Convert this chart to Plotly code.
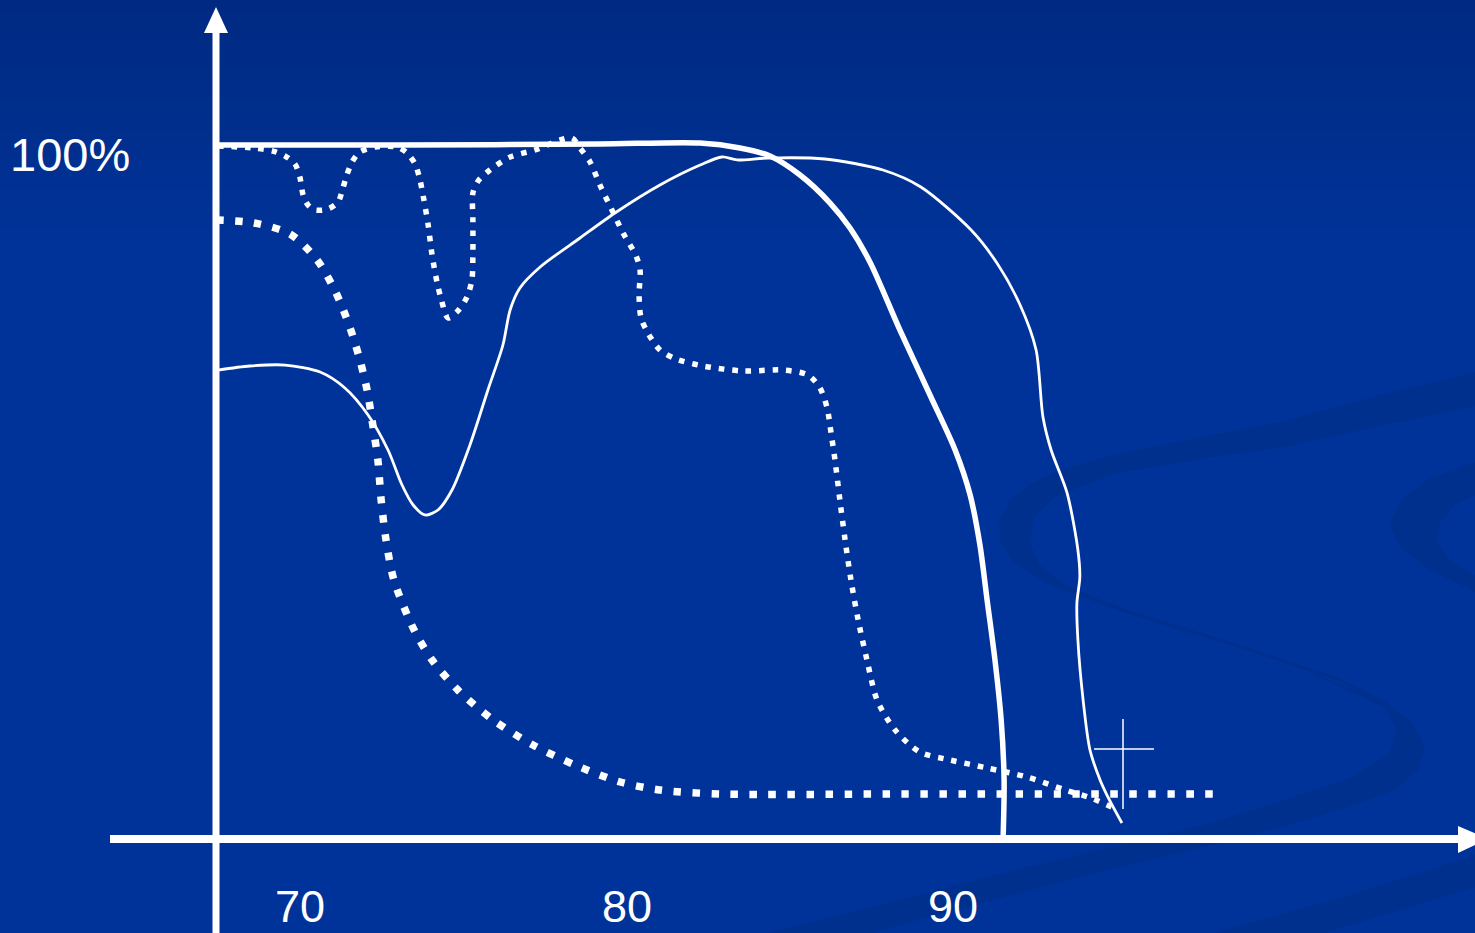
import plotly.graph_objects as go

W, H = 1475, 933

# ---------------- data (x = temperature, y = percent) ----------------
tick_values = [70, 80, 90]
tick_labels = ["70", "80", "90"]
y_label_value = 100
y_label_text = "100%"

thick_x = [67.48, 73.06, 79.18, 82.25, 83.47, 84.39, 85.31, 86.23, 86.84, 87.45,
           88.37, 89.29, 90.06, 90.52, 90.82, 91.04, 91.28, 91.47, 91.56, 91.53]
thick_y = [100.0, 100.0, 100.14, 100.29, 99.57, 98.41, 95.67, 91.63, 88.02, 83.12,
           73.30, 63.92, 55.99, 49.49, 42.28, 34.34, 25.69, 17.03, 8.37, 0.0]

thin_x = [67.48, 68.46, 69.54, 70.61, 71.37, 72.08, 72.69, 73.12, 73.46, 73.82,
          74.22, 74.65, 75.20, 75.75, 76.21, 76.43, 76.73, 77.35, 78.57, 79.64,
          81.02, 82.25, 82.92, 83.38, 84.33, 86.07, 87.85, 89.01, 90.55, 91.34,
          92.05, 92.54, 92.75, 93.00, 93.49, 93.82, 93.88, 93.79, 93.82, 93.98,
          94.19, 94.50, 94.71, 95.17]
thin_y = [67.53, 68.11, 68.25, 67.24, 64.94, 61.04, 55.99, 50.94, 48.05, 46.61,
          47.33, 50.22, 56.71, 64.65, 71.14, 76.19, 79.37, 82.40, 86.58, 90.19,
          94.23, 97.11, 98.27, 97.84, 98.12, 97.98, 96.39, 93.94, 87.73, 82.97,
          76.91, 70.42, 60.75, 55.99, 49.78, 41.56, 37.66, 33.91, 28.57, 19.91,
          12.70, 8.37, 6.20, 2.16]

round_x = [67.42, 68.59, 69.69, 70.52, 71.10, 71.53, 71.83, 72.05, 72.20, 72.38,
           72.48, 72.63, 72.87, 73.49, 74.04, 74.83, 75.91, 77.13, 78.42, 79.80,
           81.02, 82.86, 88.37, 93.27, 98.23]
round_y = [89.18, 88.74, 87.16, 83.41, 78.64, 73.59, 68.98, 64.65, 60.32, 54.55,
           48.77, 43.00, 37.23, 30.01, 25.69, 21.36, 17.03, 13.42, 10.53, 8.08,
           6.93, 6.35, 6.35, 6.35, 6.35]

sq_x = [67.48, 68.56, 69.17, 69.54, 69.84, 69.99, 70.09, 70.24, 70.45, 70.85,
        71.16, 71.31, 71.43, 71.59, 71.83, 72.29, 72.97, 73.27, 73.52, 73.67,
        73.79, 73.92, 74.04, 74.19, 74.31, 74.53, 74.83, 75.11, 75.26, 75.29,
        75.29, 75.29, 75.45, 75.81, 76.43, 77.19, 77.96, 78.33, 78.57, 78.88,
        79.18, 79.52, 79.89, 80.29, 80.41, 80.38, 80.44, 80.65, 81.02, 81.51,
        82.34, 83.56, 84.79, 85.55, 85.92, 86.14, 86.26, 86.38, 86.53, 86.69,
        86.87, 87.09, 87.36, 87.67, 88.22, 88.98, 89.90, 91.04, 92.26, 93.43,
        94.22, 94.99]
sq_y = [99.86, 99.57, 99.13, 98.41, 97.26, 95.38, 92.78, 91.34, 90.62, 90.76,
        91.77, 93.80, 95.67, 97.55, 98.99, 99.71, 99.71, 98.85, 97.26, 94.95,
        92.06, 88.46, 84.13, 80.23, 77.92, 75.04, 76.05, 78.07, 80.52, 84.42,
        89.18, 93.07, 94.81, 96.39, 98.27, 99.28, 100.72, 101.01, 99.57, 97.55,
        94.23, 90.91, 87.30, 83.98, 81.96, 78.35, 75.04, 72.87, 70.42, 69.12,
        68.11, 67.39, 67.53, 66.81, 64.94, 62.05, 58.44, 54.55, 48.77, 43.00,
        37.23, 31.46, 25.69, 19.91, 15.58, 12.41, 11.26, 10.10, 8.80, 6.93,
        5.77, 4.18]

# ---------------- styling helpers ----------------
BG = "#003399"
SWOOSH = "#00308e"
WHITE = "#ffffff"
FONT = "Arial, Liberation Sans, sans-serif"


def P(px, py):
    return px / W, 1 - py / H


def poly_path(points):
    parts = []
    for i, (px, py) in enumerate(points):
        x, y = P(px, py)
        parts.append(("M" if i == 0 else "L") + f"{x:.5f},{y:.5f}")
    return " ".join(parts) + " Z"


def open_path(points):
    parts = []
    for i, (px, py) in enumerate(points):
        x, y = P(px, py)
        parts.append(("M" if i == 0 else "L") + f"{x:.5f},{y:.5f}")
    return " ".join(parts)


def lerp_color(c1, c2, t):
    a = [int(c1[i:i + 2], 16) for i in (1, 3, 5)]
    b = [int(c2[i:i + 2], 16) for i in (1, 3, 5)]
    return "#" + "".join(f"{round(a[k] + (b[k] - a[k]) * t):02x}" for k in range(3))


fig = go.Figure()

fig.add_trace(go.Scatter(x=sq_x, y=sq_y, mode="lines",
                         line=dict(color=WHITE, width=5.5, dash="5.5px,8px",
                                   shape="spline", smoothing=0.8),
                         hoverinfo="skip"))
fig.add_trace(go.Scatter(x=round_x, y=round_y, mode="lines",
                         line=dict(color=WHITE, width=7.5, dash="7.5px,11.5px",
                                   shape="spline", smoothing=0.8),
                         hoverinfo="skip"))
fig.add_trace(go.Scatter(x=thin_x, y=thin_y, mode="lines",
                         line=dict(color=WHITE, width=2.8, shape="spline", smoothing=0.8),
                         hoverinfo="skip"))
fig.add_trace(go.Scatter(x=thick_x, y=thick_y, mode="lines",
                         line=dict(color=WHITE, width=5.5, shape="spline", smoothing=0.8),
                         hoverinfo="skip"))

shapes = []
# background gradient at top
n = 26
for i in range(n):
    x0, y1 = P(0, i * 10)
    x1, y0 = P(W, (i + 1) * 10 + 1)
    shapes.append(dict(type="rect", xref="paper", yref="paper", x0=x0, x1=x1, y0=y0, y1=y1,
                       line=dict(width=0), fillcolor=lerp_color("#002a82", BG, i / (n - 1)),
                       layer="below"))

# decorative swooshes
swoosh_polys = [
    # top arm + left turn
    [(1475, 372), (1380, 395), (1285, 421), (1200, 437), (1117, 454), (1060, 470),
     (1030, 484), (1010, 500), (999, 521), (1000, 543), (1015, 563), (1045, 583),
     (1117, 610), (1200, 637),
     (1117, 606), (1065, 585), (1040, 565), (1030, 543), (1034, 518), (1055, 497),
     (1117, 473), (1200, 459), (1285, 447), (1380, 426), (1475, 406)],
    # right turn + lower arm
    [(1300, 668), (1385, 702), (1412, 722), (1425, 748), (1418, 770), (1395, 790),
     (1352, 806), (1290, 825), (1200, 848), (1100, 872), (1000, 898), (900, 925),
     (875, 933), (767, 933), (879, 905), (1000, 874), (1102, 849), (1200, 826),
     (1285, 800), (1350, 778), (1390, 752), (1397, 730), (1385, 708)],
    # bottom right band
    [(1475, 855), (1350, 895), (1214, 933), (1325, 933), (1400, 910), (1475, 887)],
    # right edge partial ring
    [(1475, 462), (1430, 478), (1400, 500), (1390, 525), (1400, 548), (1430, 570),
     (1475, 592), (1475, 575), (1450, 560), (1437, 540), (1440, 522), (1455, 505),
     (1475, 495)],
]
for poly in swoosh_polys:
    shapes.append(dict(type="path", xref="paper", yref="paper", path=poly_path(poly),
                       fillcolor=SWOOSH, line=dict(width=0), layer="below"))
shapes.append(dict(type="path", xref="paper", yref="paper",
                   path=open_path([(1117, 608), (1200, 634), (1251, 650), (1340, 680), (1385, 703)]),
                   line=dict(color=SWOOSH, width=3), layer="below"))

# axes with arrow heads
vx0, vy0 = P(216, H)
vx1, vy1 = P(216, 30)
shapes.append(dict(type="line", xref="paper", yref="paper", x0=vx0, y0=vy0, x1=vx1, y1=vy1,
                   line=dict(color=WHITE, width=7)))
shapes.append(dict(type="path", xref="paper", yref="paper",
                   path=poly_path([(216, 7), (204, 33), (228, 33)]),
                   fillcolor=WHITE, line=dict(width=0)))
hx0, hy0 = P(110, 839)
hx1, hy1 = P(1462, 839)
shapes.append(dict(type="line", xref="paper", yref="paper", x0=hx0, y0=hy0, x1=hx1, y1=hy1,
                   line=dict(color=WHITE, width=8)))
shapes.append(dict(type="path", xref="paper", yref="paper",
                   path=poly_path([(1458, 826), (1488, 839), (1458, 853)]),
                   fillcolor=WHITE, line=dict(width=0)))

# cursor cross
cx0, cy0 = P(1123, 719)
cx1, cy1 = P(1123, 809)
shapes.append(dict(type="line", xref="paper", yref="paper", x0=cx0, y0=cy0, x1=cx1, y1=cy1,
                   line=dict(color=WHITE, width=1.5)))
cx0, cy0 = P(1094, 749)
cx1, cy1 = P(1154, 749)
shapes.append(dict(type="line", xref="paper", yref="paper", x0=cx0, y0=cy0, x1=cx1, y1=cy1,
                   line=dict(color=WHITE, width=1.5)))

annotations = []
for v, t in zip(tick_values, tick_labels):
    annotations.append(dict(x=v, y=0, xref="x", yref="y", text=t, showarrow=False,
                            xanchor="center", yanchor="middle", yshift=-68,
                            font=dict(family=FONT, size=45, color=WHITE)))
annotations.append(dict(x=8 / W, y=y_label_value, xref="paper", yref="y", text=y_label_text,
                        showarrow=False, xanchor="left", yanchor="middle", yshift=-9,
                        font=dict(family=FONT, size=47, color=WHITE)))

fig.update_layout(
    width=W, height=H,
    margin=dict(l=0, r=0, t=0, b=0),
    paper_bgcolor=BG, plot_bgcolor="rgba(0,0,0,0)",
    showlegend=False,
    xaxis=dict(range=[60.806, 105.983], visible=False, fixedrange=True),
    yaxis=dict(range=[-13.709, 120.924], visible=False, fixedrange=True),
    shapes=shapes, annotations=annotations,
)

fig.write_html("out.html", config={"displayModeBar": False},
               post_script="document.body.style.margin='0';document.body.style.overflow='hidden';")
